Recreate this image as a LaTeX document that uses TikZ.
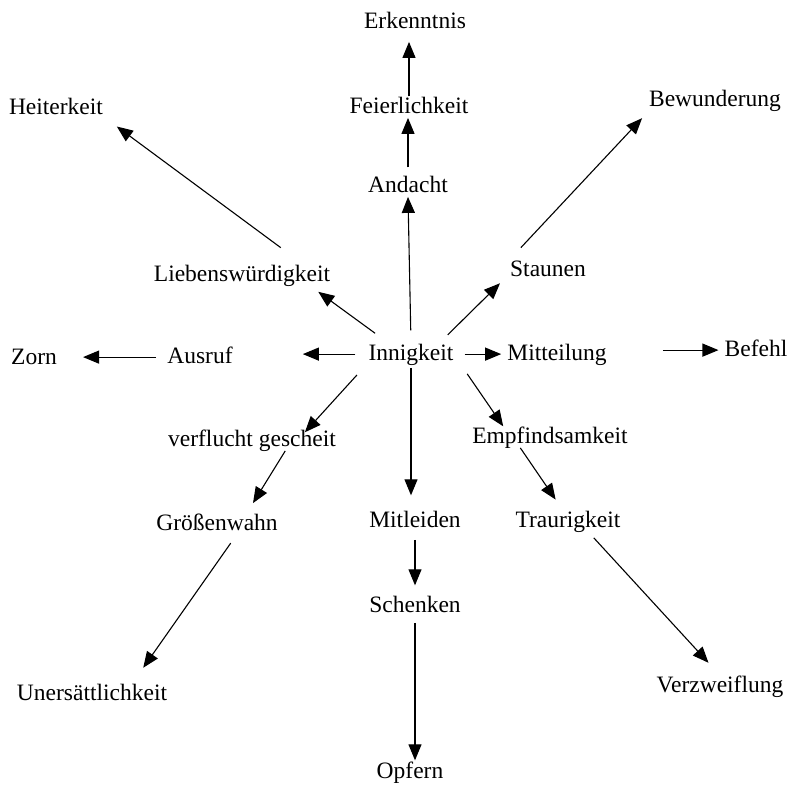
\documentclass[tikz,border=0pt]{standalone}
\usepackage{fontspec}
\setmainfont{Liberation Serif}
\usetikzlibrary{arrows.meta}
\begin{document}
\begin{tikzpicture}[x=1pt,y=-1pt,
  word/.style={anchor=base,inner sep=0pt,text height=16.5pt,text depth=4.7pt,font=\fontsize{23.5}{28}\selectfont},
  arr/.style={-{Triangle[length=16pt,width=13pt]},line width=1.1pt}]
\useasboundingbox (0,0) rectangle (791,785);
\node[word] (erk) at (415,28) {Erkenntnis};
\node[word] (fei) at (409,113) {Feierlichkeit};
\node[word] (and) at (408,192) {Andacht};
\node[word] (hei) at (56,114) {Heiterkeit};
\node[word] (bew) at (715,106) {Bewunderung};
\node[word] (lieb) at (242,281) {Liebenswürdigkeit};
\node[word] (sta) at (548,276) {Staunen};
\node[word] (zorn) at (34,364) {Zorn};
\node[word] (aus) at (200,363) {Ausruf};
\node[word] (inn) at (411,360) {Innigkeit};
\node[word] (mitt) at (557,360) {Mitteilung};
\node[word] (bef) at (756,356) {Befehl};
\node[word] (ver) at (252,446) {verflucht gescheit};
\node[word] (gro) at (217,530) {Größenwahn};
\node[word] (mitl) at (415,527) {Mitleiden};
\node[word] (emp) at (550,443) {Empfindsamkeit};
\node[word] (tra) at (568,527) {Traurigkeit};
\node[word] (sch) at (415,612) {Schenken};
\node[word] (uns) at (92,700) {Unersättlichkeit};
\node[word] (vzw) at (720,692) {Verzweiflung};
\node[word] (opf) at (410,778) {Opfern};

\draw[arr,shorten <=8pt] (and.north) -- (and.north |- fei.south);
\draw[arr,shorten >=9pt] (fei.north) -- (fei.north |- erk.south);
\draw[arr,shorten <=13pt] (inn.north) -- (and.south);
\draw[arr,shorten <=17pt,shorten >=10pt] (inn.154) -- (lieb.-9);
\draw[arr,shorten <=28pt,shorten >=17pt] (lieb.10) -- (hei.-10);
\draw[arr,shorten <=12pt,shorten >=14pt] (inn.21) -- (sta.185);
\draw[arr,shorten <=16pt,shorten >=10pt] (sta.north west) -- (bew.south west);
\draw[arr,shorten <=13pt,shorten >=70pt] (inn.west) -- (inn.west -| aus.east);
\draw[arr,shorten <=11pt,shorten >=26pt] (aus.west) -- (aus.west -| zorn.east);
\draw[arr,shorten <=11pt,shorten >=6pt] (inn.east) -- (mitt.west);
\draw[arr,shorten <=56pt,shorten >=6pt] (bef.west -| mitt.east) -- (bef.west);
\draw[arr,shorten <=17pt,shorten >=-4pt] (inn.191) -- (ver.11);
\draw[arr,shorten >=12pt] (ver.-18) -- (gro.20);
\draw[arr,shorten <=10pt,shorten >=19pt] (gro.-29) -- (uns.15);
\draw[arr,shorten <=3pt,shorten >=15pt] (inn.south) -- (inn.south |- mitl.north);
\draw[arr,shorten <=8pt,shorten >=10pt] (mitl.south) -- (mitl.south |- sch.north);
\draw[arr,shorten <=6pt,shorten >=1pt] (sch.south) -- (sch.south |- opf.north);
\draw[arr,shorten <=24pt] (inn.east) -- (emp.167);
\draw[arr,shorten >=13pt] (emp.200) -- (tra.115);
\draw[arr,shorten <=8pt,shorten >=17pt] (tra.-28) -- (vzw.north);
\end{tikzpicture}
\end{document}
